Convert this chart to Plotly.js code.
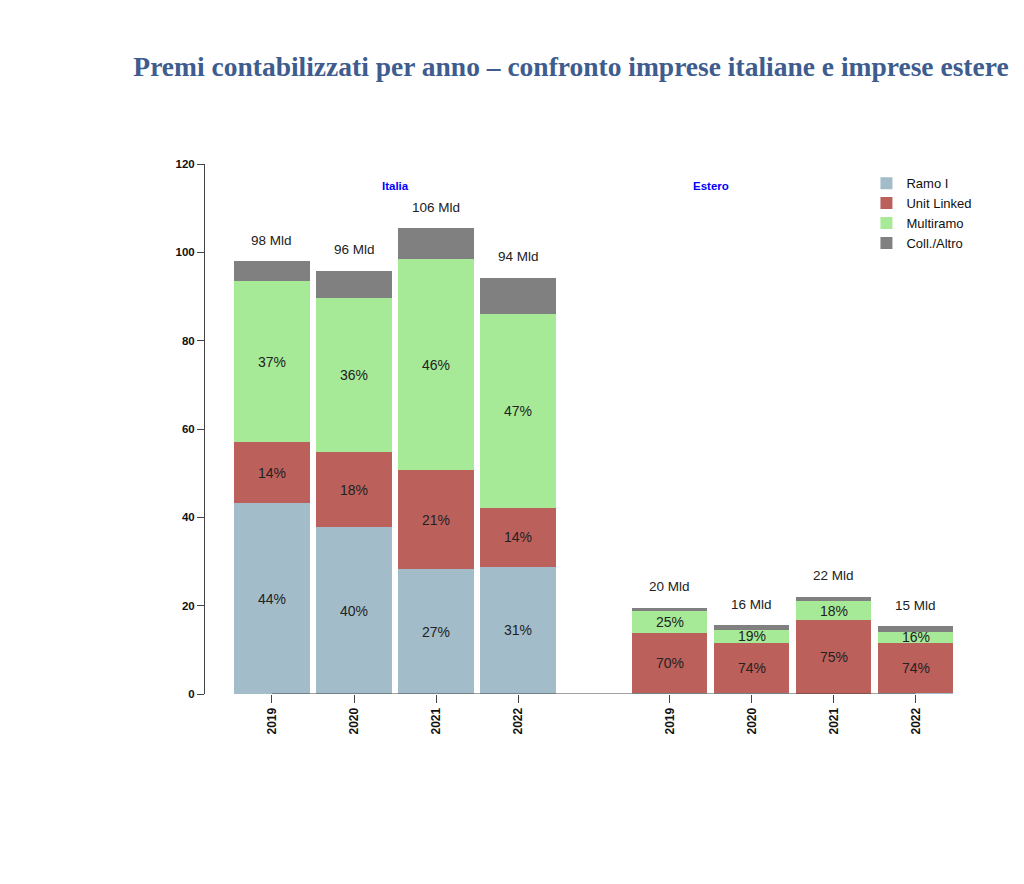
<!DOCTYPE html>
<html>
<head>
<meta charset="utf-8">
<script src="https://cdn.plot.ly/plotly-3.0.1.min.js"></script>
<style>html,body{margin:0;padding:0;background:#fff;}#chart{width:1024px;height:884px;}</style>
</head>
<body>
<div id="chart"></div>
<script>
// ---- data ----
const years = ['2019', '2020', '2021', '2022'];
const groups = ['Italia', 'Estero'];
const seriesNames = ['Ramo I', 'Unit Linked', 'Multiramo', 'Coll./Altro'];

// values in billions (Mld)
const ramoIItalia = [43.2, 37.8, 28.3, 28.8];
const unitLinkedItalia = [13.8, 17.0, 22.4, 13.3];
const multiramoItalia = [36.5, 34.9, 47.8, 43.9];
const collAltroItalia = [4.5, 6.1, 7.0, 8.2];

const ramoIEstero = [0.2, 0.3, 0.1, 0.3];
const unitLinkedEstero = [13.5, 11.3, 16.7, 11.3];
const multiramoEstero = [5.2, 3.0, 4.2, 2.5];
const collAltroEstero = [0.6, 1.0, 1.0, 1.2];

// labels printed on the chart
const totalItalia = [98, 96, 106, 94];
const totalEstero = [20, 16, 22, 15];
const pctRamoIItalia = [44, 40, 27, 31];
const pctUnitLinkedItalia = [14, 18, 21, 14];
const pctMultiramoItalia = [37, 36, 46, 47];
const pctUnitLinkedEstero = [70, 74, 75, 74];
const pctMultiramoEstero = [25, 19, 18, 16];

// ---- layout helpers ----
const colors = ['#a2bdc9', '#bc605c', '#a6ea98', '#808080'];
const groupGap = 4.85;   // position of first Estero bar
const barWidth = 0.915;
const groupLabelPos = [1.5, 5.35];
const groupLabelY = 115;
const posItalia = years.map((_, i) => i);
const posEstero = years.map((_, i) => i + groupGap);
const positions = posItalia.concat(posEstero);
const tickText = years.concat(years);

const valuesBySeries = [
  ramoIItalia.concat(ramoIEstero),
  unitLinkedItalia.concat(unitLinkedEstero),
  multiramoItalia.concat(multiramoEstero),
  collAltroItalia.concat(collAltroEstero)
];

const traces = seriesNames.map((name, k) => ({
  type: 'bar',
  name: name,
  x: positions,
  y: valuesBySeries[k],
  width: barWidth,
  marker: {color: colors[k], line: {width: 0}},
  hoverinfo: 'skip'
}));

const annotations = [];
const pctFont = {family: 'Liberation Sans, Arial, sans-serif', size: 14, color: '#222'};
const totFont = {family: 'Liberation Sans, Arial, sans-serif', size: 13.5, color: '#222'};

// percent labels at segment midpoints
function segLabels(pos, lowerArrays, vals, pcts) {
  pos.forEach((x, i) => {
    const base = lowerArrays.reduce((s, a) => s + a[i], 0);
    annotations.push({
      x: x, y: base + vals[i] / 2, xref: 'x', yref: 'y',
      text: pcts[i] + '%', showarrow: false, font: pctFont,
      xanchor: 'center', yanchor: 'middle'
    });
  });
}
segLabels(posItalia, [], ramoIItalia, pctRamoIItalia);
segLabels(posItalia, [ramoIItalia], unitLinkedItalia, pctUnitLinkedItalia);
segLabels(posItalia, [ramoIItalia, unitLinkedItalia], multiramoItalia, pctMultiramoItalia);
segLabels(posEstero, [ramoIEstero], unitLinkedEstero, pctUnitLinkedEstero);
segLabels(posEstero, [ramoIEstero, unitLinkedEstero], multiramoEstero, pctMultiramoEstero);

// totals above bars
function totalLabels(pos, parts, totals) {
  pos.forEach((x, i) => {
    const top = parts.reduce((s, a) => s + a[i], 0);
    annotations.push({
      x: x, y: top, xref: 'x', yref: 'y', yshift: 21,
      text: totals[i] + ' Mld', showarrow: false, font: totFont,
      xanchor: 'center', yanchor: 'middle'
    });
  });
}
totalLabels(posItalia, [ramoIItalia, unitLinkedItalia, multiramoItalia, collAltroItalia], totalItalia);
totalLabels(posEstero, [ramoIEstero, unitLinkedEstero, multiramoEstero, collAltroEstero], totalEstero);

// group labels
groups.forEach((g, k) => {
  annotations.push({
    x: groupLabelPos[k], y: groupLabelY, xref: 'x', yref: 'y',
    text: '<b>' + g + '</b>', showarrow: false,
    font: {family: 'Liberation Sans, Arial, sans-serif', size: 11.5, color: '#0000ff'},
    xanchor: 'center', yanchor: 'middle'
  });
});

const tickFont = {family: 'Liberation Sans, Arial, sans-serif', size: 12, color: '#111', weight: 'bold'};

const layout = {
  width: 1024, height: 884,
  paper_bgcolor: '#ffffff', plot_bgcolor: '#ffffff',
  margin: {l: 205, r: 24, t: 164, b: 190},
  barmode: 'stack',
  bargap: 0,
  showlegend: true,
  title: {
    text: '<b>Premi contabilizzati per anno – confronto imprese italiane e imprese estere</b>',
    font: {family: 'Liberation Serif, Times New Roman, serif', size: 27.5, color: '#3e5c8e'},
    x: 571 / 1024, xref: 'container', xanchor: 'center',
    y: 1 - 66 / 884, yref: 'container', yanchor: 'middle'
  },
  xaxis: {
    range: [-0.817, 8.878],
    tickvals: positions, ticktext: tickText, tickangle: -90,
    ticks: 'outside', ticklen: 8, tickcolor: '#444', tickwidth: 1,
    tickfont: tickFont,
    showline: false, showgrid: false, zeroline: false, fixedrange: true
  },
  yaxis: {
    range: [0, 120],
    tickvals: [0, 20, 40, 60, 80, 100, 120],
    ticks: 'outside', ticklen: 7, tickcolor: '#444', tickwidth: 1,
    tickfont: {family: 'Liberation Sans, Arial, sans-serif', size: 11.5, color: '#111', weight: 'bold'},
    showline: true, linecolor: '#444', linewidth: 1,
    showgrid: false, zeroline: false, fixedrange: true
  },
  shapes: [{
    type: 'line', xref: 'x', yref: 'y',
    x0: positions[0], x1: positions[positions.length - 1], y0: 0, y1: 0,
    line: {color: '#444', width: 1}
  }],
  legend: {
    x: 0.832, y: 0.992, xanchor: 'left', yanchor: 'top',
    traceorder: 'normal',
    font: {family: 'Liberation Sans, Arial, sans-serif', size: 13, color: '#111'},
    bgcolor: 'rgba(0,0,0,0)', itemwidth: 30, tracegroupgap: 0
  },
  annotations: annotations
};

Plotly.newPlot('chart', traces, layout, {displayModeBar: false, staticPlot: true});
</script>
</body>
</html>
